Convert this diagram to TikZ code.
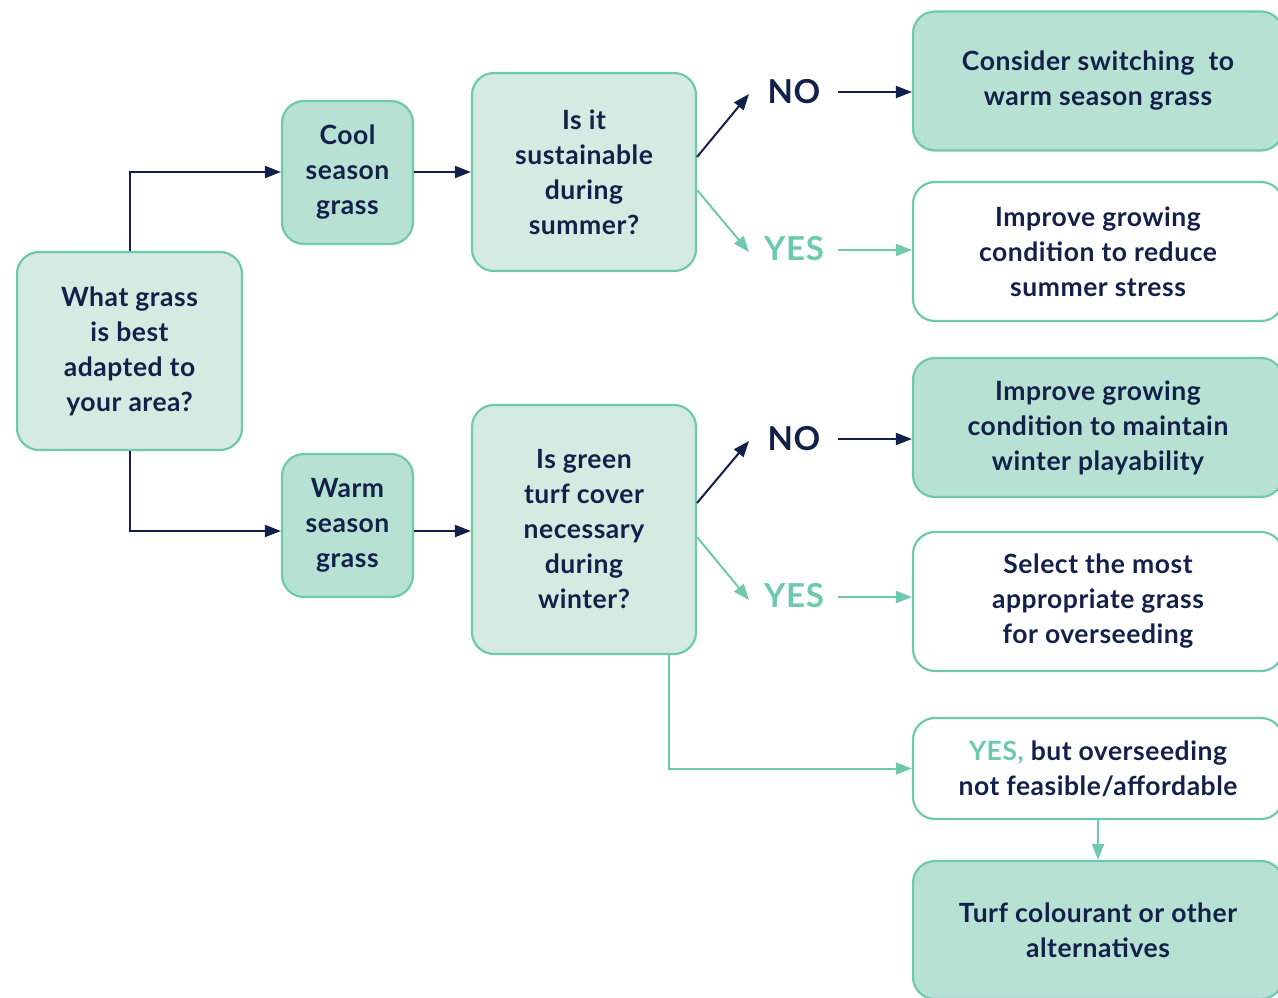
\documentclass[tikz,border=0pt]{standalone}
\usepackage{fontspec}
\setmainfont{Lato}[LetterSpace=2]
\usetikzlibrary{arrows.meta,calc}
\definecolor{navy}{HTML}{13204A}
\definecolor{grn}{HTML}{6EC9AD}
\definecolor{lightfill}{HTML}{D4EBE2}
\definecolor{darkfill}{HTML}{B7E1D3}
\tikzset{
  box/.style={draw=grn, line width=2.2pt, rounded corners=22pt, align=center,
    text=navy, font=\fontsize{26.5}{35}\selectfont\bfseries, inner sep=0pt},
  qbox/.style={box, fill=lightfill},
  dbox/.style={box, fill=darkfill},
  wbox/.style={box, fill=white},
  lab/.style={font=\fontsize{33}{36}\selectfont\bfseries, inner sep=0pt},
  navyarrow/.style={draw=navy, line width=2pt, -{Triangle[length=16pt,width=12pt]}},
  grnarrow/.style={draw=grn, line width=2pt, -{Triangle[length=16pt,width=12pt]}},
}
\begin{document}
\begin{tikzpicture}[x=1pt,y=-1pt]
\useasboundingbox[fill=white] (0,0) rectangle (1278,997);
% boxes
\node[qbox, minimum width=225pt, minimum height=198pt] (q0) at (129.5,351) {What grass\\is best\\adapted to\\your area?};
\node[dbox, minimum width=131pt, minimum height=143pt] (cool) at (347.5,172.5) {Cool\\season\\grass};
\node[dbox, minimum width=131pt, minimum height=143pt] (warm) at (347.5,525.5) {Warm\\season\\grass};
\node[qbox, minimum width=224pt, minimum height=198pt] (q1) at (584,172) {Is it\\sustainable\\during\\summer?};
\node[qbox, minimum width=224pt, minimum height=249pt] (q2) at (584,529.5) {Is green\\turf cover\\necessary\\during\\winter?};
\node[dbox, minimum width=370pt, minimum height=139pt] (r1) at (1098,81) {Consider switching\ \ to\\warm season grass};
\node[wbox, minimum width=370pt, minimum height=139pt] (r2) at (1098,251.5) {Improve growing\\condition to reduce\\summer stress};
\node[dbox, minimum width=370pt, minimum height=139pt] (r3) at (1098,427.5) {Improve growing\\condition to maintain\\winter playability};
\node[wbox, minimum width=370pt, minimum height=139pt] (r4) at (1098,601.5) {Select the most\\appropriate grass\\for overseeding};
\node[wbox, minimum width=370pt, minimum height=101pt] (r5) at (1098,768.5) {\textcolor{grn}{YES,} but overseeding\\not feasible/affordable};
\node[dbox, minimum width=370pt, minimum height=138pt] (r6) at (1098,930) {Turf colourant or other\\alternatives};
% labels
\node[lab, text=navy] (no1) at (794,92) {NO};
\node[lab, text=grn] (yes1) at (794,249) {YES};
\node[lab, text=navy] (no2) at (794,439) {NO};
\node[lab, text=grn] (yes2) at (794,596) {YES};
% coordinates
\coordinate (q1a) at (697,157);
\coordinate (q1b) at (697,190);
\coordinate (q2a) at (697,503);
\coordinate (q2b) at (697,537);
\coordinate (no1in) at (749,94);
\coordinate (yes1in) at (749,252);
\coordinate (no2in) at (749,441);
\coordinate (yes2in) at (749,600);
\coordinate (no1out) at (838,92);
\coordinate (yes1out) at (838,250);
\coordinate (no2out) at (838,439);
\coordinate (yes2out) at (838,597);
% connectors
\draw[navyarrow] (q0.north) |- (cool.west |- 0,172);
\draw[navyarrow] (q0.south) |- (warm.west |- 0,531);
\draw[navyarrow] (cool.east |- 0,172) -- (q1.west |- 0,172);
\draw[navyarrow] (warm.east |- 0,531) -- (q2.west |- 0,531);
\draw[navyarrow] (q1a) -- (no1in);
\draw[grnarrow] (q1b) -- (yes1in);
\draw[navyarrow] (q2a) -- (no2in);
\draw[grnarrow] (q2b) -- (yes2in);
\draw[navyarrow] (no1out) -- (no1out -| r1.west);
\draw[grnarrow] (yes1out) -- (yes1out -| r2.west);
\draw[navyarrow] (no2out) -- (no2out -| r3.west);
\draw[grnarrow] (yes2out) -- (yes2out -| r4.west);
\draw[grnarrow] (q2.south -| 669,0) |- (r5.west);
\draw[grnarrow] (r5.south) -- (r6.north);
\end{tikzpicture}
\end{document}
